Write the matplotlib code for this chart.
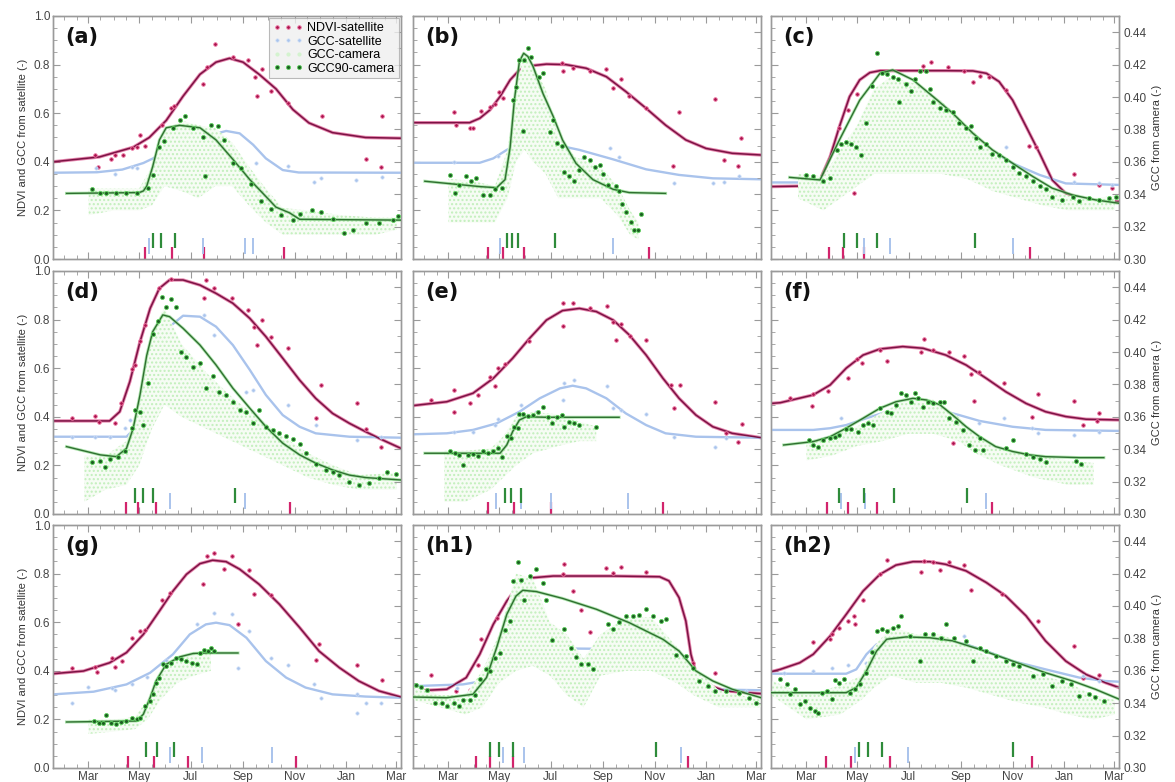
import matplotlib
matplotlib.use("Agg")
import matplotlib.pyplot as plt
from matplotlib.lines import Line2D
from matplotlib.ticker import FixedLocator, MultipleLocator

plt.rcParams["font.family"] = ["Liberation Sans", "DejaVu Sans"]

## Data ##
# x values are days counted from 1 Jan (0) and run on into March of the next year.
# NDVI / GCC-satellite on the left axis, camera GCC on the right axis.

# (a)
a_ndvi_day = [68, 71, 87, 91, 101, 112, 117, 121, 127, 147, 158, 161, 196, 200, 210, 231, 249, 257, 259, 266, 276, 296, 336, 388, 406, 408]
a_ndvi = [0.43, 0.38, 0.41, 0.43, 0.43, 0.455, 0.46, 0.51, 0.465, 0.55, 0.62, 0.63, 0.72, 0.79, 0.885, 0.83, 0.82, 0.75, 0.67, 0.78, 0.69, 0.64, 0.59, 0.41, 0.38, 0.59]
a_ndvi_fit_day = [18, 73, 113, 132, 152, 172, 192, 211, 227, 243, 262, 282, 302, 321, 349, 388, 430]
a_ndvi_fit = [0.40, 0.42, 0.46, 0.50, 0.57, 0.67, 0.76, 0.81, 0.826, 0.81, 0.76, 0.70, 0.615, 0.56, 0.52, 0.50, 0.497]
a_gsat_day = [69, 91, 111, 117, 156, 196, 200, 258, 296, 327, 335, 377, 408]
a_gsat = [0.373, 0.35, 0.38, 0.373, 0.42, 0.435, 0.469, 0.396, 0.383, 0.318, 0.332, 0.325, 0.339]
a_gsat_fit_day = [18, 70, 100, 125, 152, 180, 205, 223, 239, 255, 270, 290, 309, 430]
a_gsat_fit = [0.355, 0.357, 0.368, 0.395, 0.44, 0.48, 0.51, 0.527, 0.517, 0.47, 0.414, 0.366, 0.356, 0.355]
a_g90_day = [64, 74, 81, 93, 105, 117, 131, 136, 144, 150, 160, 168, 174, 184, 196, 198, 205, 213, 221, 231, 241, 253, 264, 276, 288, 302, 310, 325, 335, 349, 363, 373, 388, 404, 420, 426]
a_g90 = [0.343, 0.3405, 0.341, 0.3405, 0.3405, 0.3405, 0.344, 0.352, 0.369, 0.373, 0.381, 0.386, 0.388, 0.381, 0.3755, 0.351, 0.383, 0.382, 0.3735, 0.359, 0.356, 0.346, 0.336, 0.331, 0.327, 0.324, 0.328, 0.330, 0.329, 0.3245, 0.316, 0.318, 0.322, 0.322, 0.324, 0.3265]
a_g90_fit_day = [34, 120, 125, 129, 136, 144, 152, 168, 192, 211, 231, 251, 270, 282, 298, 310, 430]
a_g90_fit = [0.3405, 0.341, 0.342, 0.345, 0.357, 0.3735, 0.381, 0.3825, 0.381, 0.3735, 0.3615, 0.349, 0.3386, 0.332, 0.3285, 0.3245, 0.324]
a_cam_day = [60, 90, 120, 135, 150, 170, 190, 210, 230, 250, 270, 290, 320, 360, 400, 425]
a_cam_lo = [0.327, 0.33, 0.33, 0.333, 0.345, 0.342, 0.3375, 0.345, 0.345, 0.333, 0.3225, 0.315, 0.315, 0.315, 0.315, 0.318]
a_cam_hi = [0.3435, 0.3435, 0.3435, 0.357, 0.378, 0.3855, 0.3825, 0.381, 0.372, 0.357, 0.3435, 0.3315, 0.33, 0.327, 0.3255, 0.3255]
a_dates_ndvi = [127, 159, 197, 292]
a_dates_gsat = [132, 196, 245, 255]
a_dates_g90 = [136, 146, 163]

# (b)
b_ndvi_day = [66, 69, 85, 89, 99, 109, 115, 120, 125, 194, 195, 207, 227, 247, 255, 264, 274, 294, 326, 333, 376, 386, 403, 406]
b_ndvi = [0.604, 0.551, 0.538, 0.54, 0.61, 0.624, 0.638, 0.689, 0.661, 0.805, 0.775, 0.785, 0.774, 0.782, 0.705, 0.74, 0.671, 0.62, 0.384, 0.604, 0.657, 0.407, 0.384, 0.497]
b_ndvi_fit_day = [18, 85, 97, 109, 121, 133, 144, 160, 176, 199, 223, 247, 270, 294, 317, 341, 365, 396, 430]
b_ndvi_fit = [0.561, 0.561, 0.579, 0.613, 0.668, 0.737, 0.778, 0.796, 0.802, 0.80, 0.785, 0.75, 0.689, 0.62, 0.551, 0.49, 0.455, 0.435, 0.428]
b_gsat_day = [66, 119, 127, 146, 154, 217, 251, 262, 327, 373, 386, 404]
b_gsat = [0.398, 0.424, 0.398, 0.49, 0.497, 0.407, 0.455, 0.421, 0.311, 0.314, 0.318, 0.342]
b_gsat_fit_day = [18, 97, 113, 129, 144, 160, 184, 215, 255, 294, 333, 373, 430]
b_gsat_fit = [0.396, 0.396, 0.414, 0.449, 0.476, 0.479, 0.472, 0.449, 0.41, 0.369, 0.346, 0.332, 0.328]
b_g90_day = [62, 68, 73, 81, 87, 93, 101, 109, 115, 123, 136, 140, 144, 148, 149, 154, 158, 167, 172, 180, 184, 188, 194, 197, 203, 209, 215, 221, 227, 233, 239, 243, 249, 258, 262, 266, 270, 276, 280, 284, 288]
b_g90 = [0.352, 0.341, 0.3458, 0.351, 0.348, 0.350, 0.3395, 0.3395, 0.343, 0.3437, 0.398, 0.406, 0.423, 0.379, 0.423, 0.430, 0.4245, 0.4125, 0.415, 0.3786, 0.3858, 0.3714, 0.370, 0.3536, 0.351, 0.348, 0.355, 0.363, 0.361, 0.357, 0.358, 0.3525, 0.3458, 0.345, 0.342, 0.334, 0.329, 0.323, 0.318, 0.318, 0.3276]
b_g90_fit_day = [32, 97, 117, 127, 133, 138, 144, 149, 154, 160, 172, 184, 195, 211, 231, 255, 274, 317]
b_g90_fit = [0.348, 0.3447, 0.344, 0.349, 0.369, 0.398, 0.422, 0.427, 0.425, 0.419, 0.402, 0.388, 0.3735, 0.359, 0.349, 0.343, 0.341, 0.3405]
b_cam_day = [60, 90, 115, 130, 140, 150, 160, 175, 190, 210, 240, 260, 275, 285]
b_cam_lo = [0.3225, 0.3225, 0.3225, 0.3375, 0.36, 0.3675, 0.36, 0.3525, 0.3375, 0.3375, 0.3375, 0.327, 0.315, 0.312]
b_cam_hi = [0.3495, 0.348, 0.345, 0.3675, 0.405, 0.4275, 0.42, 0.405, 0.375, 0.363, 0.357, 0.345, 0.33, 0.3225]
b_dates_ndvi = [107, 124, 149, 297]
b_dates_gsat = [121, 255]
b_dates_g90 = [129, 135, 142, 186]

# (c)
c_ndvi_day = [76, 99, 109, 116, 120, 155, 198, 208, 227, 247, 257, 265, 276, 296, 324, 332, 377, 406, 422]
c_ndvi = [0.318, 0.538, 0.613, 0.27, 0.679, 0.723, 0.796, 0.812, 0.791, 0.775, 0.73, 0.753, 0.748, 0.695, 0.465, 0.462, 0.35, 0.305, 0.291]
c_ndvi_fit_day = [18, 52, 76, 88, 99, 111, 123, 135, 147, 186, 225, 257, 273, 288, 304, 320, 336, 351, 367, 391, 430]
c_ndvi_fit = [0.298, 0.30, 0.325, 0.421, 0.545, 0.668, 0.737, 0.767, 0.775, 0.775, 0.775, 0.774, 0.764, 0.73, 0.654, 0.545, 0.435, 0.325, 0.27, 0.243, 0.236]
c_gsat_day = [115, 147, 155, 208, 235, 296, 377, 406, 422]
c_gsat = [0.325, 0.483, 0.449, 0.538, 0.373, 0.462, 0.318, 0.311, 0.305]
c_gsat_fit_day = [18, 68, 88, 107, 127, 147, 166, 186, 225, 249, 273, 304, 336, 367, 430]
c_gsat_fit = [0.315, 0.315, 0.325, 0.353, 0.407, 0.462, 0.49, 0.503, 0.503, 0.49, 0.455, 0.394, 0.346, 0.311, 0.305]
c_g90_day = [60, 68, 80, 88, 96, 101, 107, 113, 119, 125, 131, 137, 143, 149, 155, 162, 168, 170, 178, 184, 188, 194, 202, 206, 210, 218, 225, 233, 241, 249, 255, 261, 265, 273, 280, 288, 296, 304, 312, 320, 328, 336, 343, 351, 363, 375, 383, 395, 406, 418, 426]
c_g90 = [0.352, 0.351, 0.348, 0.350, 0.367, 0.371, 0.372, 0.371, 0.369, 0.364, 0.384, 0.407, 0.427, 0.415, 0.414, 0.4125, 0.411, 0.397, 0.408, 0.404, 0.411, 0.416, 0.416, 0.405, 0.397, 0.393, 0.392, 0.391, 0.384, 0.381, 0.382, 0.375, 0.369, 0.371, 0.365, 0.364, 0.361, 0.357, 0.353, 0.351, 0.348, 0.345, 0.343, 0.3385, 0.3365, 0.3385, 0.3355, 0.3375, 0.3365, 0.3375, 0.3385]
c_g90_fit_day = [40, 76, 99, 123, 147, 162, 186, 210, 233, 257, 280, 304, 328, 351, 375, 402, 430]
c_g90_fit = [0.3504, 0.3488, 0.3735, 0.398, 0.4146, 0.4167, 0.4106, 0.4002, 0.39, 0.3776, 0.3674, 0.3591, 0.3509, 0.3437, 0.3395, 0.3365, 0.3344]
c_cam_day = [50, 80, 100, 120, 140, 160, 190, 220, 250, 280, 310, 340, 370, 400, 425]
c_cam_lo = [0.3375, 0.33, 0.3375, 0.345, 0.3525, 0.3525, 0.3525, 0.3525, 0.3495, 0.342, 0.3375, 0.333, 0.33, 0.33, 0.33]
c_cam_hi = [0.3525, 0.351, 0.3675, 0.3825, 0.405, 0.4125, 0.408, 0.3975, 0.3825, 0.3675, 0.354, 0.345, 0.339, 0.3375, 0.339]
c_dates_ndvi = [87, 103, 128, 325]
c_dates_gsat = [128, 159, 305]
c_dates_g90 = [104, 120, 143, 259]

# (d)
d_ndvi_day = [41, 68, 72, 91, 99, 111, 115, 121, 127, 144, 158, 197, 199, 209, 230, 249, 256, 260, 266, 276, 296, 329, 335, 378, 388, 406]
d_ndvi = [0.394, 0.405, 0.377, 0.373, 0.455, 0.595, 0.613, 0.712, 0.778, 0.929, 0.967, 0.89, 0.963, 0.931, 0.888, 0.84, 0.771, 0.695, 0.798, 0.73, 0.682, 0.396, 0.531, 0.455, 0.35, 0.277]
d_ndvi_fit_day = [18, 85, 97, 109, 121, 133, 144, 156, 172, 192, 211, 231, 251, 270, 290, 310, 329, 349, 369, 388, 408, 430]
d_ndvi_fit = [0.383, 0.383, 0.421, 0.545, 0.709, 0.846, 0.929, 0.963, 0.963, 0.942, 0.908, 0.867, 0.805, 0.73, 0.641, 0.551, 0.476, 0.414, 0.373, 0.339, 0.305, 0.27]
d_gsat_day = [41, 68, 85, 103, 109, 134, 144, 197, 209, 246, 255, 296, 329, 378, 406]
d_gsat = [0.318, 0.318, 0.318, 0.353, 0.387, 0.654, 0.695, 0.819, 0.737, 0.503, 0.51, 0.449, 0.366, 0.305, 0.318]
d_gsat_fit_day = [18, 105, 113, 121, 133, 144, 156, 172, 192, 211, 231, 251, 270, 290, 310, 329, 369, 430]
d_gsat_fit = [0.318, 0.318, 0.346, 0.407, 0.545, 0.682, 0.771, 0.816, 0.812, 0.771, 0.695, 0.593, 0.49, 0.407, 0.359, 0.332, 0.318, 0.314]
d_g90_day = [64, 74, 79, 85, 95, 103, 111, 115, 121, 125, 131, 136, 142, 147, 152, 158, 164, 170, 176, 184, 192, 199, 207, 215, 223, 231, 239, 247, 255, 262, 270, 278, 286, 294, 302, 310, 317, 329, 341, 349, 357, 369, 380, 392, 404, 414, 424]
d_g90 = [0.332, 0.333, 0.329, 0.334, 0.335, 0.339, 0.353, 0.364, 0.363, 0.355, 0.381, 0.411, 0.419, 0.434, 0.428, 0.433, 0.428, 0.400, 0.397, 0.391, 0.393, 0.3776, 0.385, 0.3755, 0.3735, 0.369, 0.364, 0.363, 0.356, 0.364, 0.354, 0.352, 0.350, 0.348, 0.346, 0.343, 0.3375, 0.331, 0.327, 0.326, 0.324, 0.320, 0.318, 0.319, 0.322, 0.326, 0.325]
d_g90_fit_day = [34, 74, 93, 105, 113, 121, 129, 136, 148, 156, 172, 192, 211, 231, 251, 270, 290, 310, 329, 349, 369, 388, 430]
d_g90_fit = [0.3416, 0.3365, 0.3354, 0.3405, 0.353, 0.3735, 0.398, 0.4125, 0.4229, 0.4218, 0.4146, 0.4043, 0.392, 0.3776, 0.3653, 0.3539, 0.3437, 0.3365, 0.3314, 0.3272, 0.324, 0.3225, 0.321]
d_cam_day = [55, 80, 105, 120, 135, 150, 170, 200, 230, 260, 290, 320, 350, 380, 425]
d_cam_lo = [0.3075, 0.315, 0.318, 0.33, 0.3525, 0.3675, 0.36, 0.3525, 0.345, 0.3375, 0.33, 0.3225, 0.318, 0.315, 0.315]
d_cam_hi = [0.336, 0.336, 0.345, 0.3675, 0.4125, 0.4275, 0.405, 0.387, 0.372, 0.36, 0.348, 0.3375, 0.33, 0.324, 0.3255]
d_dates_ndvi = [105, 119, 140, 299]
d_dates_gsat = [157, 245]
d_dates_g90 = [115, 124, 136, 234]

# (e)
e_ndvi_day = [39, 66, 66, 86, 95, 109, 115, 119, 127, 155, 195, 195, 208, 227, 248, 255, 258, 264, 275, 294, 323, 327, 334, 376, 388, 403, 407]
e_ndvi = [0.469, 0.51, 0.418, 0.458, 0.49, 0.565, 0.527, 0.602, 0.616, 0.712, 0.774, 0.867, 0.87, 0.846, 0.857, 0.791, 0.716, 0.781, 0.734, 0.716, 0.531, 0.435, 0.531, 0.46, 0.332, 0.298, 0.369]
e_ndvi_fit_day = [18, 58, 89, 113, 136, 156, 176, 195, 215, 235, 255, 274, 294, 314, 333, 353, 373, 396, 430]
e_ndvi_fit = [0.446, 0.462, 0.497, 0.558, 0.641, 0.723, 0.798, 0.837, 0.846, 0.833, 0.798, 0.737, 0.654, 0.558, 0.476, 0.407, 0.359, 0.332, 0.314]
e_gsat_day = [66, 89, 115, 119, 146, 164, 195, 197, 209, 248, 255, 264, 294, 327, 375, 388]
e_gsat = [0.339, 0.339, 0.366, 0.39, 0.449, 0.421, 0.469, 0.538, 0.551, 0.528, 0.438, 0.428, 0.41, 0.318, 0.277, 0.314]
e_gsat_fit_day = [18, 58, 89, 117, 144, 168, 192, 207, 223, 247, 270, 294, 317, 353, 430]
e_gsat_fit = [0.328, 0.332, 0.346, 0.373, 0.421, 0.476, 0.517, 0.528, 0.517, 0.476, 0.414, 0.366, 0.332, 0.318, 0.314]
e_g90_day = [62, 68, 73, 77, 83, 89, 95, 101, 107, 113, 119, 123, 129, 134, 138, 142, 144, 148, 154, 160, 166, 172, 178, 182, 188, 194, 197, 203, 209, 215, 235]
e_g90 = [0.3386, 0.3375, 0.3365, 0.330, 0.3365, 0.337, 0.336, 0.3386, 0.3375, 0.339, 0.3405, 0.3354, 0.348, 0.347, 0.354, 0.353, 0.362, 0.3615, 0.3605, 0.361, 0.363, 0.366, 0.360, 0.356, 0.360, 0.361, 0.354, 0.357, 0.356, 0.355, 0.354]
e_g90_fit_day = [32, 121, 129, 136, 144, 152, 176, 262]
e_g90_fit = [0.3375, 0.3375, 0.3426, 0.3509, 0.358, 0.360, 0.3597, 0.3597]
e_cam_day = [55, 80, 110, 125, 140, 160, 190, 215, 235]
e_cam_lo = [0.3075, 0.3075, 0.315, 0.3225, 0.33, 0.3375, 0.342, 0.345, 0.345]
e_cam_hi = [0.339, 0.339, 0.3405, 0.348, 0.36, 0.363, 0.3615, 0.357, 0.354]
e_dates_ndvi = [107, 138, 181, 314]
e_dates_gsat = [116, 146, 181, 273]
e_dates_g90 = [127, 134, 146]

# (f)
f_ndvi_day = [40, 67, 68, 86, 109, 120, 126, 147, 155, 196, 199, 210, 229, 234, 247, 255, 258, 264, 294, 327, 334, 377, 387, 404, 406]
f_ndvi = [0.479, 0.446, 0.492, 0.506, 0.558, 0.638, 0.623, 0.675, 0.63, 0.668, 0.72, 0.675, 0.668, 0.291, 0.652, 0.575, 0.466, 0.586, 0.54, 0.398, 0.492, 0.466, 0.366, 0.383, 0.414]
f_ndvi_fit_day = [18, 29, 68, 88, 107, 127, 147, 174, 198, 225, 249, 273, 296, 320, 343, 367, 391, 430]
f_ndvi_fit = [0.455, 0.458, 0.49, 0.531, 0.60, 0.654, 0.679, 0.689, 0.682, 0.654, 0.613, 0.558, 0.503, 0.455, 0.421, 0.401, 0.39, 0.387]
f_gsat_day = [101, 121, 131, 155, 186, 208, 233, 264, 294, 327, 334, 377, 406]
f_gsat = [0.394, 0.339, 0.35, 0.421, 0.421, 0.421, 0.394, 0.373, 0.396, 0.353, 0.332, 0.325, 0.339]
f_gsat_fit_day = [18, 68, 88, 107, 131, 155, 178, 194, 218, 241, 265, 304, 343, 430]
f_gsat_fit = [0.346, 0.346, 0.353, 0.366, 0.394, 0.421, 0.435, 0.438, 0.428, 0.407, 0.383, 0.359, 0.346, 0.342]
f_g90_day = [63, 68, 74, 80, 88, 94, 99, 107, 113, 121, 127, 133, 139, 147, 155, 160, 166, 172, 178, 184, 188, 192, 198, 204, 210, 218, 223, 229, 237, 245, 253, 259, 265, 269, 296, 304, 320, 328, 336, 343, 379, 385]
f_g90 = [0.3458, 0.3426, 0.3416, 0.3458, 0.3467, 0.3477, 0.3488, 0.3525, 0.3525, 0.3509, 0.3549, 0.356, 0.3549, 0.3653, 0.3632, 0.3621, 0.3674, 0.3746, 0.3735, 0.3693, 0.3746, 0.3714, 0.3663, 0.3693, 0.3683, 0.3689, 0.3693, 0.3591, 0.357, 0.3519, 0.3426, 0.3395, 0.3467, 0.3395, 0.3405, 0.3458, 0.3369, 0.3354, 0.3339, 0.3323, 0.3327, 0.3306]
f_g90_fit_day = [33, 68, 88, 107, 127, 147, 166, 186, 202, 218, 233, 249, 265, 284, 304, 324, 343, 383, 412]
f_g90_fit = [0.3426, 0.3447, 0.3477, 0.353, 0.3591, 0.3653, 0.3693, 0.3714, 0.3704, 0.3674, 0.3611, 0.3539, 0.3477, 0.3416, 0.3386, 0.3365, 0.3354, 0.3348, 0.3348]
f_cam_day = [60, 90, 120, 150, 180, 210, 240, 260, 290, 330, 370, 400]
f_cam_lo = [0.333, 0.336, 0.342, 0.345, 0.3495, 0.3495, 0.345, 0.3375, 0.33, 0.3225, 0.318, 0.318]
f_cam_hi = [0.345, 0.348, 0.354, 0.363, 0.3705, 0.3705, 0.36, 0.348, 0.3405, 0.336, 0.333, 0.3315]
f_dates_ndvi = [84, 109, 143, 280]
f_dates_gsat = [101, 129, 273]
f_dates_g90 = [98, 128, 164, 250]

# (g)
g_ndvi_day = [41, 68, 70, 88, 91, 100, 111, 121, 127, 147, 156, 196, 200, 209, 220, 230, 237, 250, 256, 276, 329, 333, 378, 408]
g_ndvi = [0.413, 0.417, 0.396, 0.451, 0.417, 0.44, 0.536, 0.564, 0.567, 0.69, 0.722, 0.759, 0.872, 0.883, 0.818, 0.872, 0.591, 0.813, 0.717, 0.712, 0.443, 0.509, 0.424, 0.361]
g_ndvi_fit_day = [18, 54, 85, 105, 125, 144, 160, 176, 192, 207, 223, 239, 262, 286, 310, 333, 357, 380, 404, 430]
g_ndvi_fit = [0.388, 0.399, 0.433, 0.475, 0.55, 0.646, 0.728, 0.797, 0.841, 0.855, 0.849, 0.818, 0.756, 0.674, 0.578, 0.481, 0.413, 0.358, 0.317, 0.292]
g_gsat_day = [41, 59, 88, 91, 111, 129, 152, 188, 209, 230, 237, 250, 276, 296, 327, 335, 378, 378, 388, 406]
g_gsat = [0.269, 0.335, 0.331, 0.32, 0.344, 0.374, 0.443, 0.591, 0.636, 0.635, 0.413, 0.564, 0.451, 0.424, 0.344, 0.289, 0.306, 0.228, 0.269, 0.269]
g_gsat_fit_day = [18, 66, 105, 133, 160, 180, 199, 211, 227, 247, 270, 294, 317, 349, 388, 430]
g_gsat_fit = [0.303, 0.314, 0.344, 0.392, 0.468, 0.55, 0.591, 0.598, 0.588, 0.536, 0.44, 0.372, 0.331, 0.303, 0.294, 0.289]
g_g90_day = [66, 72, 77, 81, 87, 93, 99, 105, 111, 117, 121, 127, 133, 136, 140, 144, 148, 152, 158, 164, 170, 176, 182, 188, 192, 197, 201, 205, 209]
g_g90 = [0.329, 0.3276, 0.328, 0.333, 0.328, 0.3273, 0.3284, 0.329, 0.331, 0.330, 0.331, 0.338, 0.3414, 0.3455, 0.3527, 0.3558, 0.364, 0.363, 0.365, 0.368, 0.367, 0.366, 0.365, 0.364, 0.371, 0.373, 0.372, 0.374, 0.372]
g_g90_fit_day = [34, 117, 125, 133, 140, 152, 168, 184, 199, 237]
g_g90_fit = [0.3284, 0.329, 0.3332, 0.3434, 0.3537, 0.364, 0.3686, 0.3707, 0.371, 0.371]
g_cam_day = [60, 90, 115, 130, 145, 165, 185, 205]
g_cam_lo = [0.321, 0.3225, 0.324, 0.33, 0.342, 0.3525, 0.357, 0.36]
g_cam_hi = [0.33, 0.33, 0.3315, 0.342, 0.357, 0.3675, 0.3705, 0.372]
g_dates_ndvi = [107, 137, 178, 306]
g_dates_gsat = [157, 194, 277]
g_dates_g90 = [128, 141, 161]

# (h1)
h1_ndvi_day = [39, 69, 85, 95, 99, 117, 195, 197, 208, 217, 228, 235, 247, 255, 264, 294, 349, 376]
h1_ndvi = [0.383, 0.317, 0.32, 0.424, 0.532, 0.616, 0.797, 0.841, 0.728, 0.649, 0.561, 0.502, 0.821, 0.804, 0.829, 0.808, 0.433, 0.392]
h1_ndvi_fit_day = [18, 58, 81, 97, 113, 129, 144, 160, 184, 255, 310, 321, 333, 341, 347, 353, 365, 388, 430]
h1_ndvi_fit = [0.317, 0.324, 0.372, 0.468, 0.591, 0.687, 0.756, 0.783, 0.79, 0.79, 0.787, 0.77, 0.701, 0.605, 0.468, 0.392, 0.344, 0.317, 0.306]
h1_gsat_day = [70, 146, 197, 235, 251, 325, 412]
h1_gsat = [0.331, 0.488, 0.512, 0.379, 0.475, 0.468, 0.317]
h1_gsat_fit_day = [18, 77, 113, 129, 144, 164, 195, 317, 329, 337, 345, 357, 430]
h1_gsat_fit = [0.337, 0.344, 0.365, 0.427, 0.475, 0.488, 0.492, 0.488, 0.468, 0.399, 0.344, 0.324, 0.32]
h1_g90_day = [22, 28, 34, 44, 52, 58, 66, 72, 77, 85, 91, 97, 104, 109, 115, 121, 127, 133, 136, 142, 146, 150, 156, 164, 172, 176, 182, 197, 205, 211, 217, 225, 231, 249, 255, 262, 270, 278, 286, 294, 302, 312, 317, 329, 341, 349, 357, 367, 376, 388, 404, 416, 424]
h1_g90 = [0.351, 0.350, 0.348, 0.340, 0.340, 0.338, 0.340, 0.338, 0.342, 0.342, 0.345, 0.355, 0.361, 0.360, 0.368, 0.371, 0.385, 0.391, 0.4155, 0.427, 0.416, 0.404, 0.4185, 0.423, 0.414, 0.4035, 0.379, 0.386, 0.374, 0.3686, 0.364, 0.364, 0.361, 0.389, 0.386, 0.39, 0.394, 0.394, 0.3945, 0.398, 0.394, 0.391, 0.392, 0.370, 0.369, 0.362, 0.354, 0.3506, 0.3476, 0.3476, 0.346, 0.343, 0.340]
h1_g90_fit_day = [18, 58, 89, 105, 117, 129, 140, 148, 164, 195, 235, 274, 314, 333, 353, 373, 396, 430]
h1_g90_fit = [0.3438, 0.3434, 0.3455, 0.3558, 0.3743, 0.3948, 0.4062, 0.4097, 0.4089, 0.4047, 0.398, 0.3897, 0.3794, 0.3722, 0.3599, 0.3537, 0.3486, 0.3434]
h1_cam_day = [18, 50, 80, 100, 120, 140, 160, 180, 200, 220, 240, 270, 300, 330, 350, 380, 430]
h1_cam_lo = [0.342, 0.3375, 0.333, 0.3375, 0.3525, 0.36, 0.363, 0.357, 0.345, 0.3375, 0.357, 0.36, 0.36, 0.3525, 0.345, 0.3375, 0.3375]
h1_cam_hi = [0.351, 0.345, 0.345, 0.36, 0.3825, 0.42, 0.417, 0.39, 0.3825, 0.3675, 0.3825, 0.393, 0.393, 0.375, 0.363, 0.348, 0.342]
h1_dates_ndvi = [92, 109, 136, 343]
h1_dates_gsat = [124, 150, 335]
h1_dates_g90 = [109, 120, 136, 306]

# (h2)
h2_ndvi_day = [68, 88, 90, 99, 109, 116, 118, 127, 147, 155, 196, 199, 210, 218, 229, 247, 255, 292, 334, 377, 387, 406]
h2_ndvi = [0.52, 0.53, 0.553, 0.577, 0.605, 0.626, 0.591, 0.69, 0.797, 0.856, 0.807, 0.852, 0.849, 0.813, 0.848, 0.835, 0.731, 0.717, 0.605, 0.502, 0.372, 0.383]
h2_ndvi_fit_day = [18, 29, 52, 68, 88, 107, 127, 147, 166, 186, 206, 225, 249, 273, 296, 320, 343, 367, 391, 414, 430]
h2_ndvi_fit = [0.396, 0.406, 0.433, 0.468, 0.543, 0.632, 0.728, 0.797, 0.835, 0.849, 0.849, 0.838, 0.811, 0.763, 0.708, 0.626, 0.523, 0.44, 0.385, 0.351, 0.331]
h2_gsat_day = [33, 68, 90, 109, 131, 155, 196, 233, 247, 387, 406]
h2_gsat = [0.392, 0.399, 0.413, 0.424, 0.433, 0.495, 0.498, 0.399, 0.543, 0.379, 0.358]
h2_gsat_fit_day = [18, 107, 119, 131, 143, 159, 225, 249, 273, 304, 343, 383, 414, 430]
h2_gsat_fit = [0.388, 0.388, 0.406, 0.468, 0.509, 0.52, 0.52, 0.509, 0.481, 0.44, 0.406, 0.372, 0.358, 0.355]
h2_g90_day = [29, 37, 40, 46, 52, 58, 64, 70, 74, 78, 84, 90, 94, 99, 105, 111, 117, 123, 131, 137, 143, 149, 155, 162, 168, 172, 182, 194, 200, 210, 219, 225, 235, 249, 257, 265, 273, 284, 296, 304, 312, 328, 340, 351, 363, 373, 383, 395, 402, 412]
h2_g90 = [0.3548, 0.352, 0.3455, 0.3486, 0.3393, 0.3414, 0.3372, 0.3353, 0.3342, 0.3465, 0.3476, 0.3425, 0.3542, 0.3527, 0.3548, 0.3465, 0.3486, 0.3516, 0.3588, 0.3713, 0.3846, 0.3857, 0.3846, 0.3867, 0.3876, 0.3939, 0.3815, 0.366, 0.383, 0.3825, 0.3804, 0.3887, 0.3804, 0.3785, 0.366, 0.3743, 0.3722, 0.3692, 0.366, 0.364, 0.363, 0.3569, 0.3578, 0.3506, 0.3537, 0.352, 0.3444, 0.3455, 0.3438, 0.3414]
h2_g90_fit_day = [18, 107, 119, 131, 143, 155, 178, 206, 233, 265, 304, 343, 375, 402, 430]
h2_g90_fit = [0.3465, 0.3465, 0.3497, 0.3599, 0.3722, 0.3795, 0.3809, 0.3804, 0.3785, 0.3732, 0.366, 0.3588, 0.3537, 0.3486, 0.3425]
h2_cam_day = [18, 60, 100, 125, 140, 160, 190, 220, 250, 280, 310, 340, 370, 400, 425]
h2_cam_lo = [0.345, 0.33, 0.333, 0.342, 0.3495, 0.357, 0.3525, 0.3525, 0.3495, 0.345, 0.3405, 0.3375, 0.333, 0.33, 0.333]
h2_cam_hi = [0.354, 0.345, 0.351, 0.357, 0.375, 0.387, 0.3825, 0.3825, 0.375, 0.3675, 0.363, 0.357, 0.3525, 0.345, 0.342]
h2_dates_ndvi = [83, 113, 159, 327]
h2_dates_gsat = [117, 180]
h2_dates_g90 = [122, 133, 150, 304]

panel_keys = ["a", "b", "c", "d", "e", "f", "g", "h1", "h2"]

# month starts (days from 1 Jan), labelled every second month
month_days = [31, 59, 90, 120, 151, 181, 212, 243, 273, 304, 334, 365, 396, 424]
label_days = [59, 120, 181, 243, 304, 365, 424]
label_names = ["Mar", "May", "Jul", "Sep", "Nov", "Jan", "Mar"]

####


## Styles ##

col_ndvi = "#d2246c"
col_ndvi_line = "#7c1244"
col_gsat = "#a9c3ec"
col_g90 = "#1d5e22"
col_g90_edge = "#5fd35f"
col_g90_line = "#2f6f30"
col_cam = "#c2efbc"
col_axis = "#9a9a9a"

fields = ["ndvi_day", "ndvi", "ndvi_fit_day", "ndvi_fit", "gsat_day", "gsat",
          "gsat_fit_day", "gsat_fit", "g90_day", "g90", "g90_fit_day", "g90_fit",
          "cam_day", "cam_lo", "cam_hi", "dates_ndvi", "dates_gsat", "dates_g90"]

col_x = [53, 413, 771]
row_top = [16, 271, 525]
W, H = 1175, 782


def style_axes(ax, ax2, col, row):
    ax.set_xlim(18, 430)
    ax.set_ylim(0, 1.0)
    ax2.set_ylim(0.30, 0.45)
    for a in (ax, ax2):
        for s in a.spines.values():
            s.set_color(col_axis)
            s.set_linewidth(1.0)
    ax.xaxis.set_major_locator(FixedLocator(label_days))
    ax.xaxis.set_minor_locator(FixedLocator([m for m in month_days if m not in label_days] + [m + 15 for m in month_days]))
    ax.yaxis.set_major_locator(MultipleLocator(0.2))
    ax.yaxis.set_minor_locator(MultipleLocator(0.05))
    ax2.yaxis.set_major_locator(MultipleLocator(0.02))
    ax2.yaxis.set_minor_locator(MultipleLocator(0.01))
    ax.tick_params(which="both", direction="in", top=True, right=False, color=col_axis,
                   labelsize=8.5, labelcolor="#444444", pad=2)
    ax.tick_params(which="major", length=5)
    ax.tick_params(which="minor", length=3)
    ax2.tick_params(which="both", direction="in", color=col_axis, labelsize=8.5,
                    labelcolor="#444444", pad=3)
    ax2.tick_params(which="major", length=5)
    ax2.tick_params(which="minor", length=3)
    if row == 2:
        ax.set_xticklabels(label_names)
    else:
        ax.set_xticklabels([])
    if col == 0:
        ax.yaxis.set_major_formatter(plt.FuncFormatter(lambda v, p: "%.1f" % v))
        ax.set_ylabel("NDVI and GCC from satellite (-)", fontsize=8, color="#333333", labelpad=4)
    else:
        ax.set_yticklabels([])
    if col == 2:
        ax2.yaxis.set_major_formatter(plt.FuncFormatter(lambda v, p: "%.2f" % v))
        ax2.set_ylabel("GCC from camera (-)", fontsize=8, color="#333333", labelpad=4)
    else:
        ax2.set_yticklabels([])


def draw_panel(ax, ax2, tag, d):
    # satellite series on the left axis
    ax.plot(d["ndvi_fit_day"], d["ndvi_fit"], color=col_ndvi, lw=2.4, alpha=0.55, zorder=3)
    ax.plot(d["ndvi_fit_day"], d["ndvi_fit"], color=col_ndvi_line, lw=1.1, zorder=4)
    ax.plot(d["ndvi_day"], d["ndvi"], "o", ms=2.6, mfc="#a8124c", mec="#f07aa6", mew=0.6, zorder=5)
    ax.plot(d["gsat_fit_day"], d["gsat_fit"], color=col_gsat, lw=1.7, zorder=3)
    ax.plot(d["gsat_day"], d["gsat"], "o", ms=2.4, mfc=col_gsat, mec="#cfdff7", mew=0.5, zorder=5)

    # transition dates as short ticks at the bottom
    ax.vlines(d["dates_ndvi"], 0.0, 0.05, color=col_ndvi, lw=1.6, zorder=2)
    ax.vlines(d["dates_gsat"], 0.02, 0.085, color=col_gsat, lw=1.4, zorder=2)
    ax.vlines(d["dates_g90"], 0.045, 0.105, color="#2e8b3a", lw=1.6, zorder=2)

    # camera series on the right axis: daily values as a faint dotted band
    ax2.fill_between(d["cam_day"], d["cam_lo"], d["cam_hi"], facecolor="#f6fcf4",
                     edgecolor=col_cam, hatch="....", linewidth=0, zorder=1)
    ax2.plot(d["g90_fit_day"], d["g90_fit"], color="#8fdc8f", lw=2.2, alpha=0.7, zorder=3)
    ax2.plot(d["g90_fit_day"], d["g90_fit"], color=col_g90_line, lw=1.0, zorder=4)
    ax2.plot(d["g90_day"], d["g90"], "o", ms=2.9, mfc=col_g90, mec=col_g90_edge, mew=0.6, zorder=5)

    ax.text(0.035, 0.955, tag, transform=ax.transAxes, ha="left", va="top",
            fontsize=15, fontweight="bold", family="DejaVu Sans", color="#111111", zorder=10)


plt.rcParams["hatch.linewidth"] = 1.0

fig = plt.figure(figsize=(W / 100, H / 100), dpi=100)

for i, key in enumerate(panel_keys):
    col, row = i % 3, i // 3
    rect = [col_x[col] / W, 1 - (row_top[row] + 243) / H, 348 / W, 243 / H]
    ax = fig.add_axes(rect)
    ax2 = ax.twinx()
    data = {f: globals()[key + "_" + f] for f in fields}
    draw_panel(ax, ax2, "(" + key + ")", data)
    style_axes(ax, ax2, col, row)

    if key == "a":
        handles = [
            Line2D([], [], ls="none", marker="o", ms=2.6, mfc="#a8124c", mec="#f07aa6", mew=0.6),
            Line2D([], [], ls="none", marker="o", ms=2.4, mfc=col_gsat, mec="#cfdff7", mew=0.5),
            Line2D([], [], ls="none", marker="o", ms=2.0, mfc="#d4f3cf", mec="#d4f3cf"),
            Line2D([], [], ls="none", marker="o", ms=2.9, mfc=col_g90, mec=col_g90_edge, mew=0.6),
        ]
        labels = ["NDVI-satellite", "GCC-satellite", "GCC-camera", "GCC90-camera"]
        leg = ax2.legend(handles, labels, loc="upper right", numpoints=3, fontsize=9,
                         frameon=True, fancybox=False, borderaxespad=0.2, borderpad=0.3,
                         handlelength=2.4, handletextpad=0.35, labelspacing=0.12)
        leg.get_frame().set_facecolor("#efefef")
        leg.get_frame().set_edgecolor("#aaaaaa")
        leg.get_frame().set_linewidth(0.8)
        leg.set_zorder(20)

fig.savefig("out.png", dpi=100)
